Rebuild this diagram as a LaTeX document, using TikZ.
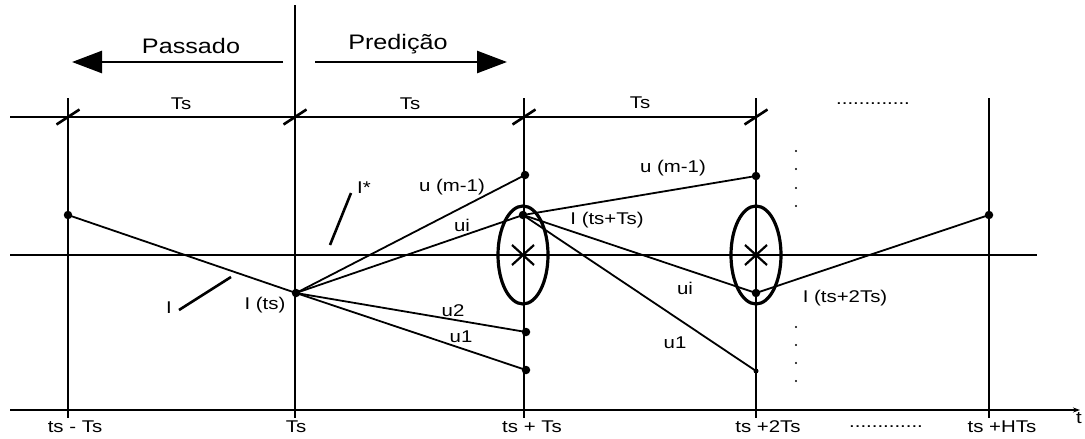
\documentclass[tikz,border=0pt]{standalone}
\usepackage{fontspec}
\setmainfont{Liberation Sans}[FakeStretch=1.2]
\usepackage{tikz}
\usetikzlibrary{arrows.meta, positioning, calc}

\begin{document}
\begin{tikzpicture}[
    x=1pt, y=-1pt,
    axisline/.style={line width=2pt},
    gridline/.style={line width=2.6pt},
    traj/.style={line width=1.8pt},
    ring/.style={line width=3.2pt},
    bigarrow/.style={line width=2.6pt, -{Triangle[length=30pt, width=22pt]}},
    lbl/.style={font=\fontsize{17}{17}\selectfont, inner sep=0pt},
    title/.style={font=\fontsize{21}{21}\selectfont, inner sep=0pt},
    pnt/.style={circle, fill, inner sep=0pt, minimum size=8.5pt},
    smallpnt/.style={circle, fill, inner sep=0pt, minimum size=5pt}
]
    \useasboundingbox (0,0) rectangle (1085,439);

    % time instants
    \foreach \n/\x in {a/68, c/524, d/756, e/989} {
        \coordinate (top\n) at (\x,98);
        \coordinate (bot\n) at (\x,418);
    }
    \coordinate (topb) at (295,5);
    \coordinate (botb) at (295,418);
    \foreach \n in {a,b,c,d,e}
        \draw [gridline] (top\n) -- (bot\n);

    % axes
    \coordinate (dimL) at (10,117);
    \coordinate (dimR) at (756,117);
    \coordinate (midL) at (10,255);
    \coordinate (midR) at (1037,255);
    \coordinate (axL) at (10,410);
    \coordinate (axR) at (1080,410);
    \draw [axisline] (dimL) -- (dimR);
    \draw [axisline] (midL) -- (midR);
    \draw [axisline, -{Stealth[length=7pt, width=5pt]}] (axL) -- (axR);
    \node [lbl] (tlabel) at (1079,418) {t};

    % slashes on the dimension line
    \foreach \x in {68, 295, 524, 756}
        \draw [line width=2.6pt] (\x-11.5,124.5) -- (\x+11.5,109.5);

    % past / prediction
    \node [title] (passado) at (191,46) {Passado};
    \node [title] (predicao) at (398,44) {Predição};
    \coordinate (pasA) at (283,62);
    \coordinate (pasB) at (72,62);
    \coordinate (preA) at (315,62);
    \coordinate (preB) at (507,62);
    \draw [bigarrow] (pasA) -- (pasB);
    \draw [bigarrow] (preA) -- (preB);

    \node [lbl] (ts1) at (181,104) {Ts};
    \node [lbl] (ts2) at (410,104) {Ts};
    \node [lbl] (ts3) at (640,103) {Ts};
    \node [lbl] (dotsTop) at (873,104) {.............};

    % trajectory points
    \node [pnt] (p0) at (68,215) {};
    \node [pnt] (its) at (296,293) {};
    \node [pnt] (um1) at (525,175) {};
    \node [pnt] (i1) at (523,215) {};
    \node [pnt] (u2e) at (526,332) {};
    \node [pnt] (u1e) at (526,370) {};
    \node [pnt] (um1b) at (756,176) {};
    \node [pnt] (i2) at (756,293) {};
    \node [smallpnt] (u1b) at (756,371) {};
    \node [pnt] (pH) at (989,215) {};

    \draw [traj] (p0.center) -- (its.center);
    \draw [traj] (its.center) -- (um1.center);
    \draw [traj] (its.center) -- (i1.center);
    \draw [traj] (its.center) -- (u2e.center);
    \draw [traj] (its.center) -- (u1e.center);
    \draw [traj] (i1.center) -- (um1b.center);
    \draw [traj] (i1.center) -- (i2.center);
    \draw [traj] (i1.center) -- (u1b.center);
    \draw [traj] (i2.center) -- (pH.center);

    % ellipses with crosses
    \foreach \x in {523, 756} {
        \draw [ring] (\x,255) ellipse [x radius=25pt, y radius=49pt];
        \draw [line width=2.2pt] (\x-11,245) -- (\x+11,265);
        \draw [line width=2.2pt] (\x-11,265) -- (\x+11,245);
    }

    % reference / measured markers
    \coordinate (istarA) at (330,245);
    \coordinate (istarB) at (351,193);
    \coordinate (imA) at (179,310);
    \coordinate (imB) at (231,277);
    \draw [line width=2.6pt] (istarA) -- (istarB);
    \draw [line width=2.6pt] (imA) -- (imB);

    \node [lbl] (istar) at (364,188) {I*};
    \node [lbl] (imeas) at (169,308) {I};
    \node [lbl] (lits) at (265,305) {I (ts)};
    \node [lbl] (lum1) at (452,187) {u (m-1)};
    \node [lbl] (lui) at (462,225) {ui};
    \node [lbl] (lu2) at (453,311) {u2};
    \node [lbl] (lu1) at (461,337) {u1};
    \node [lbl] (li1) at (607,220) {I (ts+Ts)};
    \node [lbl] (lum1b) at (673,168) {u (m-1)};
    \node [lbl] (luib) at (685,288) {ui};
    \node [lbl] (lu1b) at (675,343) {u1};
    \node [lbl] (li2) at (845,298) {I (ts+2Ts)};

    % vertical dots
    \foreach \y in {151, 169, 188, 206, 327, 345, 363, 381}
        \fill (796,\y) circle [radius=1.1pt];

    % time labels
    \node [lbl] (tA) at (75,427) {ts - Ts};
    \node [lbl] (tB) at (296,427) {Ts};
    \node [lbl] (tC) at (532,427) {ts + Ts};
    \node [lbl] (tD) at (768,427) {ts +2Ts};
    \node [lbl] (tE) at (1002,427) {ts +HTs};
    \node [lbl] (dotsBot) at (886,427) {.............};
\end{tikzpicture}
\end{document}
